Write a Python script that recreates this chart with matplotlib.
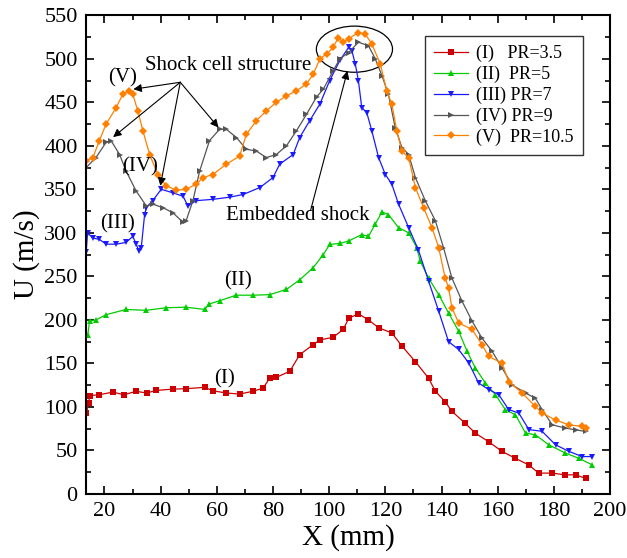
import matplotlib
matplotlib.use("Agg")
import matplotlib.pyplot as plt
from matplotlib.ticker import MultipleLocator
from matplotlib.patches import Ellipse

plt.rcParams['font.family'] = ['Liberation Serif', 'DejaVu Serif']
plt.rcParams['mathtext.fontset'] = 'stix'

# (I) PR=3.5
x_pr35 = [13.5, 14.4, 14.7, 18, 23, 27, 31.3, 35, 38.4, 44.4, 49.1, 55.7, 58.6, 63.4, 68.1,
          72.9, 76.5, 78.8, 81.2, 86, 89.5, 94.3, 96.7, 101.4, 105, 107, 110.4, 114, 117.6,
          122.3, 125.9, 130.7, 135.4, 137.8, 141.3, 143.7, 148.5, 152, 156.8, 161.5, 166.3,
          171, 174.6, 179.4, 184.1, 187.7, 191.3]
u_pr35 = [93, 104, 113, 114, 117, 114, 118, 116, 119, 120.5, 121, 122.5, 118.6, 116, 114.8,
          118, 121.7, 133, 134, 141, 160, 171.6, 177, 180, 189, 202, 207, 200, 191,
          185, 170, 152, 133, 118, 106, 95, 81, 70, 60, 49, 41,
          33.5, 24, 24, 22, 22, 18]

# (II) PR=5
x_pr5 = [14.1, 14.7, 17, 20.6, 27.7, 34.9, 42, 49.1, 55.7, 57.4, 61, 66.9, 72.9, 78.8, 84.8,
         89.5, 94.3, 97.9, 100.2, 104, 106.9, 111.6, 114, 116.4, 118.8, 121.1, 124.7, 128.3,
         131.2, 132.4, 135.4, 139, 142.5, 146.1, 149.1, 152, 155.6, 159.2, 162.7, 166.3,
         169.9, 173.4, 178.2, 184.1, 188.9, 193.6]
u_pr5 = [183, 198.5, 200, 206, 212, 211, 214, 214.6, 212, 218.4, 222, 228.4, 228.4, 229, 235,
         246, 260, 275, 286.7, 288, 290.6, 298, 296, 310, 324, 321, 306, 300,
         283, 267.5, 248, 229, 208, 187, 164, 145, 127.5, 114, 97, 91,
         70, 68, 56.5, 47, 41, 33.5]

# (III) PR=7
x_pr7 = [13.5, 14, 15.9, 18.2, 20.6, 24.2, 27.7, 30.1, 31.3, 32.3, 33.1, 34.3, 34.9, 37.2,
         40.2, 44.4, 48, 49.7, 52.7, 58.6, 64.6, 69.3, 75.3, 80, 82.4, 87.2, 89.5, 93.1, 96.7,
         100.2, 103.8, 106.9, 108.1, 109.3, 110.4, 111.6, 113.4, 115.2, 117.6, 120, 122.3,
         124.7, 128.3, 131.8, 135.4, 139, 142.5, 146.1, 149.7, 153.2, 156.8, 160.4, 163.9,
         167.5, 171.1, 175.8, 180.6, 185.3, 190.1, 193.6]
u_pr7 = [278, 300, 294, 292.5, 287, 287, 289, 296, 287, 279, 283, 321, 329, 337,
         350, 346, 342, 331, 337, 338.5, 341, 344, 352, 363.5, 379, 390, 409.5, 429, 448,
         475, 498, 513, 509, 494, 475, 444, 438, 417, 386.5, 367, 356,
         333, 306, 280, 244.5, 210, 175, 166, 150.5, 127.5, 120, 114, 97,
         93, 74, 72, 56.5, 49, 43, 43]

# (IV) PR=9
x_pr9 = [13.5, 17, 20.6, 22.4, 25.4, 27.7, 31.3, 34.9, 37.2, 40.8, 44.4, 48, 49.1, 51.5,
         53.9, 57.4, 61, 63.4, 67, 70.5, 74.1, 77.6, 81.2, 84.8, 88.3, 91.9, 95.5, 97.9,
         101.4, 103.8, 106.9, 110.4, 114, 116.4, 118.8, 121.1, 123.5, 125.9, 128.3, 130.7,
         134.2, 137.8, 140.7, 143.7, 147.3, 150.9, 154.4, 158, 161.5, 165.1, 169.9, 173.4,
         175.8, 179.4, 184.1, 187.7, 191.3]
u_pr9 = [375, 386.5, 404, 405.7, 390, 371, 348, 331, 333, 329, 323, 312, 314, 337,
         371, 406, 419, 419, 409.5, 396, 394, 386.5, 390, 400, 417, 436, 456, 465,
         486, 500, 507, 519, 515, 500, 480.5, 459, 421, 398, 390, 363.5,
         337, 314, 283, 248, 221.5, 198.5, 179, 164, 145, 125.5, 116, 110,
         97, 79.5, 75.7, 73.7, 71.8]

# (V) PR=10.5
x_pr105 = [13.5, 15.9, 18.2, 20.6, 24.2, 26.5, 28.9, 30.1, 31.9, 33.7, 36.1, 39, 42, 45.6,
           49.1, 52.7, 55.1, 58.6, 63.4, 68.1, 70.5, 74.1, 77.6, 81.2, 84.8, 88.3, 91.9,
           94.3, 96.7, 99.1, 101.4, 103.2, 105, 106.9, 110.4, 112.8, 115.2, 118.2, 120.5,
           122.3, 124.1, 125.9, 128.3, 130.7, 133.6, 136.6, 139, 141.3, 142.5, 143.7, 146.1,
           150.9, 154.4, 156.8, 161.5, 163.9, 168.7, 173.4, 175.8, 180.6, 185.3, 190.1, 191.3]
u_pr105 = [383, 386.5, 406, 425, 444, 459, 463, 459, 440, 417, 390, 367, 354, 349,
           350, 356, 363.5, 367, 379, 388, 413, 429, 440, 450, 457.5, 463, 471,
           482, 500, 505.5, 513, 524, 519, 523, 530, 528.5, 517, 494, 463,
           448, 417, 394, 386.5, 352, 329, 306, 283, 248, 237, 214, 196.5,
           189, 171.6, 158, 150.5, 129, 116, 100.6, 93, 85, 79.5, 77.6, 75.7]

labels = ["(I)   PR=3.5", "(II)  PR=5", "(III) PR=7", "(IV) PR=9", "(V)  PR=10.5"]
colors = ["#cc0000", "#00cc00", "#1a1aff", "#555555", "#ff8000"]
markers = ["s", "^", "v", ">", "D"]
sizes = [4.5, 4.5, 5, 5, 4.5]

fig = plt.figure(figsize=(6.27, 5.58), dpi=100)
ax = fig.add_axes([0.137, 0.1147, 0.836, 0.858])

series = [(x_pr35, u_pr35), (x_pr5, u_pr5), (x_pr7, u_pr7), (x_pr9, u_pr9), (x_pr105, u_pr105)]
for (xs, us), lab, c, m, ms in zip(series, labels, colors, markers, sizes):
    ax.plot(xs, us, color=c, lw=0.9, marker=m, ms=ms, mew=0, label=lab)

ax.set_xlim(13.4, 200)
ax.set_ylim(0, 550)
ax.xaxis.set_major_locator(MultipleLocator(20))
ax.xaxis.set_minor_locator(MultipleLocator(10))
ax.yaxis.set_major_locator(MultipleLocator(50))
ax.yaxis.set_minor_locator(MultipleLocator(25))
ax.tick_params(which='both', direction='in', top=True, right=True, labelsize=16, width=1.2)
ax.tick_params(which='major', length=6, pad=6)
ax.tick_params(which='minor', length=3.5)
for s in ax.spines.values():
    s.set_linewidth(1.5)

ax.set_xlabel("X (mm)", fontsize=21, labelpad=2)
ax.set_ylabel("U (m/s)", fontsize=21, labelpad=3)

leg = ax.legend(loc='upper right', bbox_to_anchor=(0.948, 0.957), borderaxespad=0,
                fontsize=13, frameon=True, fancybox=False, edgecolor='black',
                handlelength=1.9, handletextpad=0.45, labelspacing=0.2, borderpad=0.5)
leg.get_frame().set_linewidth(1.0)

# annotations
tsize = 15
ax.text(26.3, 478, "(V)", fontsize=tsize, ha='center', va='center')
ax.text(32.7, 376, "(IV)", fontsize=tsize, ha='center', va='center')
ax.text(24.5, 310, "(III)", fontsize=tsize, ha='center', va='center')
ax.text(67.7, 245, "(II)", fontsize=tsize, ha='center', va='center')
ax.text(62.7, 132, "(I)", fontsize=tsize, ha='center', va='center')
ax.text(64.1, 492, "Shock cell structure", fontsize=tsize, ha='center', va='center')
ax.text(88.7, 320, "Embedded shock", fontsize=tsize, ha='center', va='center')

arrow = dict(arrowstyle='-|>', color='black', lw=0.8, mutation_scale=12, shrinkA=0, shrinkB=0)
origin = (47, 473)
for tip in [(30.3, 465), (23.1, 410), (39.9, 354), (60.6, 421)]:
    ax.annotate("", xy=tip, xytext=origin, arrowprops=arrow)
ax.annotate("", xy=(106.5, 486), xytext=(93.4, 326), arrowprops=arrow)

ax.add_patch(Ellipse((109, 511), 27.1, 53, fill=False, edgecolor='black', lw=0.9))

fig.savefig("out.png", dpi=100)
